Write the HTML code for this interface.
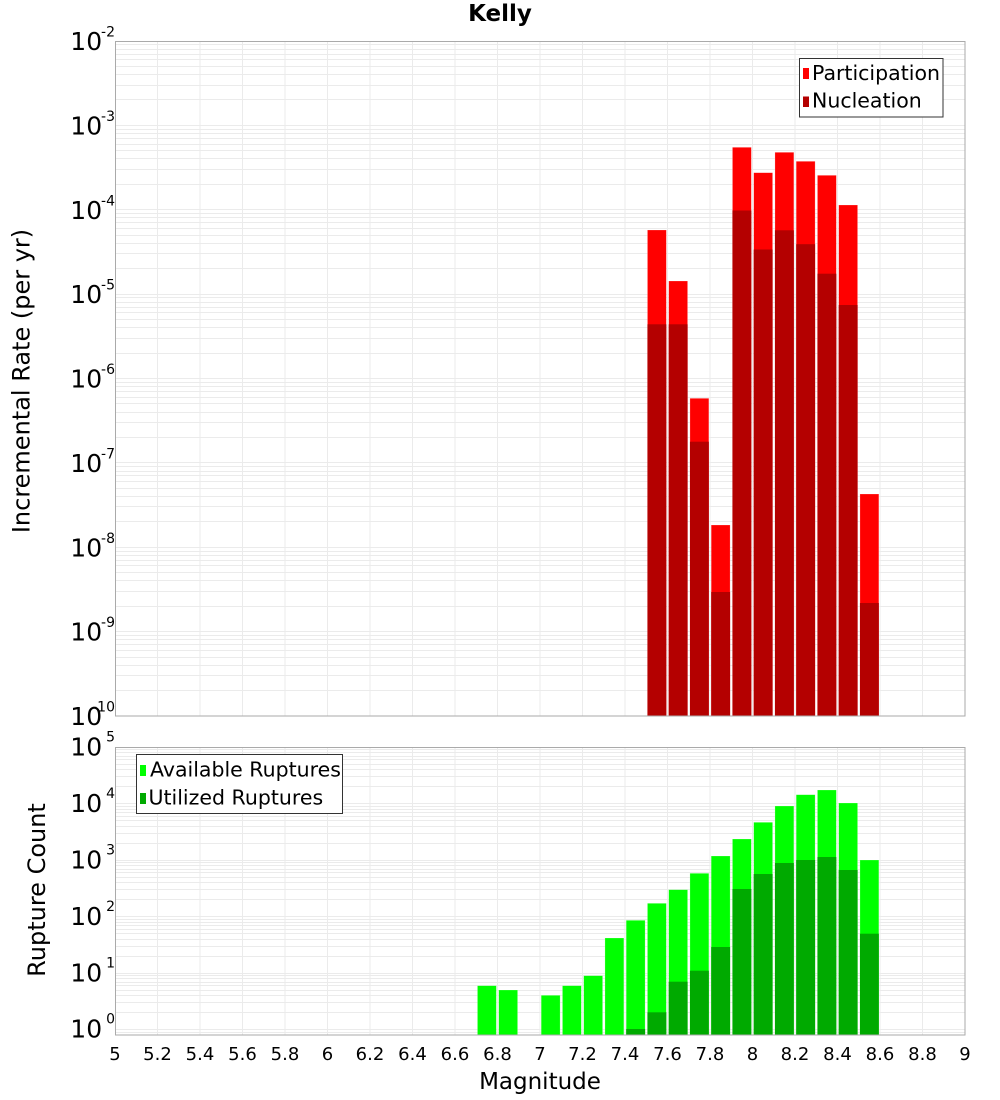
<!DOCTYPE html>
<html><head><meta charset="utf-8"><style>
html,body{margin:0;padding:0;background:#fff;}
svg{display:block;font-family:"DejaVu Sans","Liberation Sans",sans-serif;}
</style></head><body>
<svg width="1000" height="1100" viewBox="0 0 1000 1100" xmlns="http://www.w3.org/2000/svg">
<rect width="1000" height="1100" fill="#fff"/>
<text x="500" y="21" text-anchor="middle" font-size="23" font-weight="bold">Kelly</text>

<!-- TOP PLOT -->
<rect x="115" y="41" width="850" height="675" fill="#fff"/>
<g stroke="#ebebeb" stroke-width="1" fill="none">
<path d="M115 690.5H965M115 675.5H965M115 665.5H965M115 657.5H965M115 650.5H965M115 644.5H965M115 639.5H965M115 635.5H965
M115 631.5H965M115 606.5H965M115 591.5H965M115 580.5H965M115 572.5H965M115 565.5H965M115 560.5H965M115 555.5H965M115 551.5H965
M115 547.5H965M115 521.5H965M115 506.5H965M115 496.5H965M115 488.5H965M115 481.5H965M115 475.5H965M115 471.5H965M115 466.5H965
M115 462.5H965M115 437.5H965M115 422.5H965M115 412.5H965M115 403.5H965M115 397.5H965M115 391.5H965M115 386.5H965M115 382.5H965
M115 378.5H965M115 353.5H965M115 338.5H965M115 327.5H965M115 319.5H965M115 312.5H965M115 307.5H965M115 302.5H965M115 297.5H965
M115 294.5H965M115 268.5H965M115 253.5H965M115 243.5H965M115 235.5H965M115 228.5H965M115 222.5H965M115 217.5H965M115 213.5H965
M115 209.5H965M115 184.5H965M115 169.5H965M115 158.5H965M115 150.5H965M115 144.5H965M115 138.5H965M115 133.5H965M115 129.5H965
M115 125.5H965M115 99.5H965M115 85.5H965M115 74.5H965M115 66.5H965M115 59.5H965M115 54.5H965M115 49.5H965M115 44.5H965"/>
<path d="M157.5 41V716M200 41V716M242.5 41V716M285 41V716M327.5 41V716M370 41V716M412.5 41V716M455 41V716M497.5 41V716M540 41V716M582.5 41V716M625 41V716M667.5 41V716M710 41V716M752.5 41V716M795 41V716M837.5 41V716M880 41V716M922.5 41V716"/>
</g>
<!-- participation -->
<g fill="#ff0000" stroke="rgba(255,255,255,0.35)" stroke-width="0.6">
<rect x="647.45" y="230" width="18.9" height="486"/>
<rect x="668.7" y="281" width="18.9" height="435"/>
<rect x="689.95" y="398.3" width="18.9" height="317.7"/>
<rect x="711.2" y="525" width="18.9" height="191"/>
<rect x="732.45" y="147.3" width="18.9" height="568.7"/>
<rect x="753.7" y="172.7" width="18.9" height="543.3"/>
<rect x="774.95" y="152.3" width="18.9" height="563.7"/>
<rect x="796.2" y="161.3" width="18.9" height="554.7"/>
<rect x="817.45" y="175.3" width="18.9" height="540.7"/>
<rect x="838.7" y="205" width="18.9" height="511"/>
<rect x="859.95" y="494" width="18.9" height="222"/>
</g>
<!-- nucleation -->
<g fill="#b40000">
<rect x="647.45" y="324.3" width="18.9" height="391.7"/>
<rect x="668.7" y="324.3" width="18.9" height="391.7"/>
<rect x="689.95" y="441.7" width="18.9" height="274.3"/>
<rect x="711.2" y="592" width="18.9" height="124"/>
<rect x="732.45" y="210.5" width="18.9" height="505.5"/>
<rect x="753.7" y="249.5" width="18.9" height="466.5"/>
<rect x="774.95" y="230.3" width="18.9" height="485.7"/>
<rect x="796.2" y="244.2" width="18.9" height="471.8"/>
<rect x="817.45" y="273.7" width="18.9" height="442.3"/>
<rect x="838.7" y="305" width="18.9" height="411"/>
<rect x="859.95" y="603" width="18.9" height="113"/>
</g>
<rect x="115.5" y="41.5" width="849.5" height="674.5" fill="none" stroke="#aaaaaa" stroke-width="1"/>

<!-- top legend -->
<rect x="799.5" y="58.5" width="143.5" height="58.5" fill="#fff" stroke="#333" stroke-width="1"/>
<rect x="803" y="68" width="6" height="11" fill="#ff0000"/>
<rect x="803" y="96.5" width="6" height="10.5" fill="#b40000"/>
<text x="812" y="80" font-size="20.5">Participation</text>
<text x="812" y="107.7" font-size="20.5">Nucleation</text>

<!-- top y labels -->
<g font-size="25">
<text x="70.3" y="50">10</text>
<text x="70.3" y="134.4">10</text>
<text x="70.3" y="218.8">10</text>
<text x="70.3" y="303.1">10</text>
<text x="70.3" y="387.5">10</text>
<text x="70.3" y="471.9">10</text>
<text x="70.3" y="556.3">10</text>
<text x="70.3" y="640.6">10</text>
<text x="70.3" y="725">10</text>
</g>
<g font-size="14" text-anchor="end">
<text x="115" y="36.7">-2</text>
<text x="115" y="121">-3</text>
<text x="115" y="205.4">-4</text>
<text x="115" y="289.7">-5</text>
<text x="115" y="374.1">-6</text>
<text x="115" y="458.5">-7</text>
<text x="115" y="542.9">-8</text>
<text x="115" y="627.2">-9</text>
<text x="115" y="711.6">-10</text>
</g>
<text transform="translate(29.5,381) rotate(-90)" text-anchor="middle" font-size="24">Incremental Rate (per yr)</text>

<!-- BOTTOM PLOT -->
<rect x="115" y="747" width="850" height="288" fill="#fff"/>
<g stroke="#ebebeb" stroke-width="1" fill="none">
<path d="M115 1032.5H965M115 1029.5H965M115 1012.5H965M115 1002.5H965M115 995.5H965M115 990.5H965M115 985.5H965M115 982.5H965M115 978.5H965M115 975.5H965
M115 973.5H965M115 956.5H965M115 946.5H965M115 939.5H965M115 933.5H965M115 929.5H965M115 925.5H965M115 922.5H965M115 919.5H965
M115 916.5H965M115 899.5H965M115 889.5H965M115 882.5H965M115 877.5H965M115 872.5H965M115 869.5H965M115 865.5H965M115 862.5H965
M115 860.5H965M115 843.5H965M115 833.5H965M115 826.5H965M115 820.5H965M115 816.5H965M115 812.5H965M115 809.5H965M115 806.5H965
M115 803.5H965M115 786.5H965M115 776.5H965M115 769.5H965M115 764.5H965M115 759.5H965M115 756.5H965M115 752.5H965M115 749.5H965"/>
<path d="M157.5 747V1035M200 747V1035M242.5 747V1035M285 747V1035M327.5 747V1035M370 747V1035M412.5 747V1035M455 747V1035M497.5 747V1035M540 747V1035M582.5 747V1035M625 747V1035M667.5 747V1035M710 747V1035M752.5 747V1035M795 747V1035M837.5 747V1035M880 747V1035M922.5 747V1035"/>
</g>
<!-- available -->
<g fill="#00ff00" stroke="rgba(255,255,255,0.35)" stroke-width="0.6">
<rect x="477.45" y="985.7" width="18.9" height="49.3"/>
<rect x="498.7" y="990" width="18.9" height="45"/>
<rect x="541.2" y="995.3" width="18.9" height="39.7"/>
<rect x="562.45" y="985.7" width="18.9" height="49.3"/>
<rect x="583.7" y="975.7" width="18.9" height="59.3"/>
<rect x="604.95" y="938" width="18.9" height="97"/>
<rect x="626.2" y="920.3" width="18.9" height="114.7"/>
<rect x="647.45" y="903.3" width="18.9" height="131.7"/>
<rect x="668.7" y="889.7" width="18.9" height="145.3"/>
<rect x="689.95" y="873.3" width="18.9" height="161.7"/>
<rect x="711.2" y="856" width="18.9" height="179"/>
<rect x="732.45" y="839" width="18.9" height="196"/>
<rect x="753.7" y="822.3" width="18.9" height="212.7"/>
<rect x="774.95" y="806" width="18.9" height="229"/>
<rect x="796.2" y="794.7" width="18.9" height="240.3"/>
<rect x="817.45" y="790" width="18.9" height="245"/>
<rect x="838.7" y="803" width="18.9" height="232"/>
<rect x="859.95" y="860" width="18.9" height="175"/>
</g>
<!-- utilized -->
<g fill="#00aa00">
<rect x="626.2" y="1029" width="18.9" height="6"/>
<rect x="647.45" y="1012.3" width="18.9" height="22.7"/>
<rect x="668.7" y="981.7" width="18.9" height="53.3"/>
<rect x="689.95" y="970.7" width="18.9" height="64.3"/>
<rect x="711.2" y="947" width="18.9" height="88"/>
<rect x="732.45" y="889" width="18.9" height="146"/>
<rect x="753.7" y="874" width="18.9" height="161"/>
<rect x="774.95" y="863" width="18.9" height="172"/>
<rect x="796.2" y="860" width="18.9" height="175"/>
<rect x="817.45" y="857" width="18.9" height="178"/>
<rect x="838.7" y="870" width="18.9" height="165"/>
<rect x="859.95" y="933.7" width="18.9" height="101.3"/>
</g>
<rect x="115.5" y="747.5" width="849.5" height="287.5" fill="none" stroke="#aaaaaa" stroke-width="1"/>

<!-- bottom legend -->
<rect x="136.5" y="754.5" width="206" height="59" fill="#fff" stroke="#333" stroke-width="1"/>
<rect x="140" y="765" width="6" height="11" fill="#00ff00"/>
<rect x="140" y="793" width="6" height="11" fill="#00aa00"/>
<text x="150" y="776.7" font-size="20.5">Available Ruptures</text>
<text x="148.5" y="804.5" font-size="20.5">Utilized Ruptures</text>

<!-- bottom y labels -->
<g font-size="25">
<text x="70.3" y="755.7">10</text>
<text x="70.3" y="812.2">10</text>
<text x="70.3" y="868.7">10</text>
<text x="70.3" y="925.2">10</text>
<text x="70.3" y="981.7">10</text>
<text x="70.3" y="1037.5">10</text>
</g>
<g font-size="14" text-anchor="end">
<text x="115" y="741.7">5</text>
<text x="115" y="798.2">4</text>
<text x="115" y="854.7">3</text>
<text x="115" y="911.2">2</text>
<text x="115" y="967.7">1</text>
<text x="115" y="1023.5">0</text>
</g>
<text transform="translate(45,890) rotate(-90)" text-anchor="middle" font-size="24">Rupture Count</text>

<!-- x tick labels -->
<g font-size="18" text-anchor="middle">
<text x="115" y="1060">5</text>
<text x="157.5" y="1060">5.2</text>
<text x="200" y="1060">5.4</text>
<text x="242.5" y="1060">5.6</text>
<text x="285" y="1060">5.8</text>
<text x="327.5" y="1060">6</text>
<text x="370" y="1060">6.2</text>
<text x="412.5" y="1060">6.4</text>
<text x="455" y="1060">6.6</text>
<text x="497.5" y="1060">6.8</text>
<text x="540" y="1060">7</text>
<text x="582.5" y="1060">7.2</text>
<text x="625" y="1060">7.4</text>
<text x="667.5" y="1060">7.6</text>
<text x="710" y="1060">7.8</text>
<text x="752.5" y="1060">8</text>
<text x="795" y="1060">8.2</text>
<text x="837.5" y="1060">8.4</text>
<text x="880" y="1060">8.6</text>
<text x="922.5" y="1060">8.8</text>
<text x="965" y="1060">9</text>
</g>
<text x="540" y="1089" text-anchor="middle" font-size="23">Magnitude</text>
</svg>
</body></html>
